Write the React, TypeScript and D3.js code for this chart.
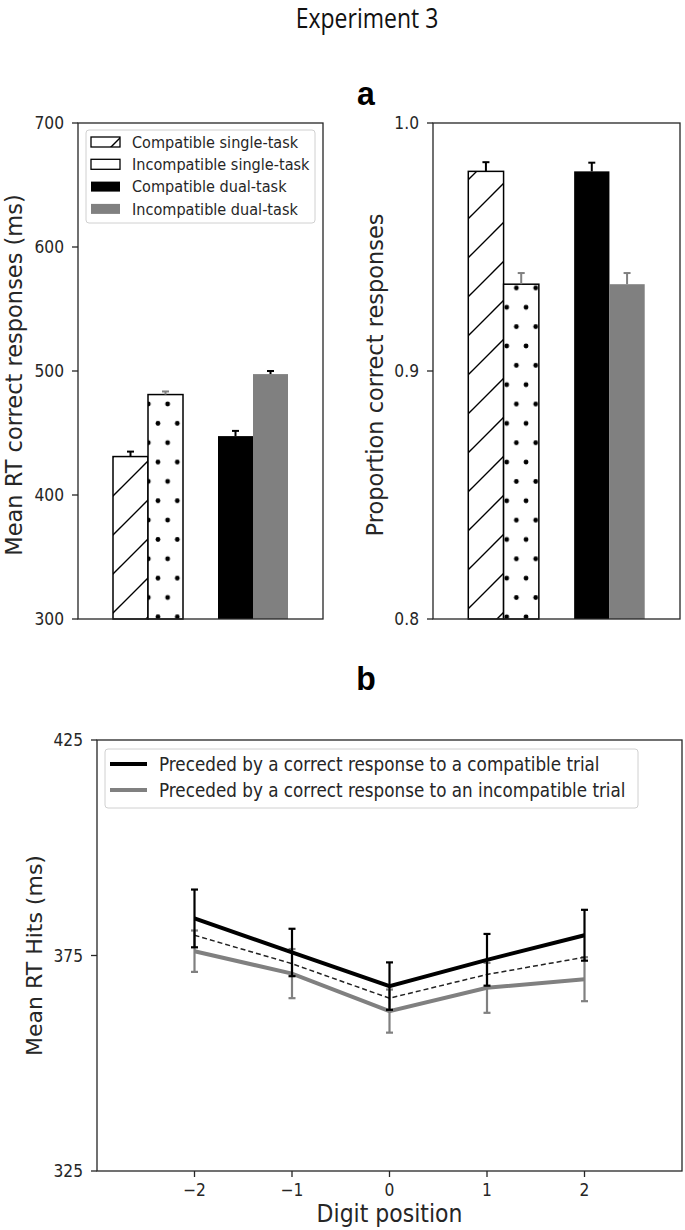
import React from 'react';
import * as d3 from 'd3';

// ---------- data ----------
const barLabels = ['Compatible single-task', 'Incompatible single-task', 'Compatible dual-task', 'Incompatible dual-task'];
const rtValues = [431, 481, 447.5, 497.5];
const rtErrors = [4, 2.5, 4.2, 2.5];
const pcValues = [0.9805, 0.935, 0.9805, 0.935];
const pcErrors = [0.0037, 0.0045, 0.0035, 0.0045];
const rtTicks = [300, 400, 500, 600, 700];
const pcTicks = [0.8, 0.9, 1.0];

const digitPositions = [-2, -1, 0, 1, 2];
const compatMeans = [383.6, 375.7, 367.9, 374.0, 379.7];
const compatErrs = [6.7, 5.5, 5.5, 6.0, 5.9];
const incompatMeans = [376.0, 370.8, 362.1, 367.5, 369.5];
const incompatErrs = [4.8, 5.7, 5.0, 5.8, 5.1];
const overallMeans = [379.7, 373.1, 365.1, 370.6, 374.6];
const hitsTicks = [325, 375, 425];
const lineLabels = ['Preceded by a correct response to a compatible trial', 'Preceded by a correct response to an incompatible trial'];

// ---------- styles ----------
const FONT = 'DejaVu Sans';
const AX = '#262626';
const GREY = '#808080';
const STRETCH = 1.12;
const barFills = ['url(#hatch)', null, '#000000', GREY];
const barStroke = ['#000', '#000', 'none', 'none'];
const rtErrColors = ['#000', GREY, '#000', '#000'];
const pcErrColors = ['#000', GREY, '#000', GREY];

type TProps = { x: number; y: number; size: number; anchor?: string; family?: string; weight?: string; fill?: string; dy?: string; children: React.ReactNode; stretch?: number };
function T({ x, y, size, anchor = 'start', family = FONT, weight = 'normal', fill = AX, dy, children, stretch = STRETCH }: TProps) {
  return (
    <text transform={`translate(${x},${y}) scale(1,${stretch})`} textAnchor={anchor} fontFamily={family}
      fontWeight={weight} fontSize={size} fill={fill} dy={dy}>{children}</text>
  );
}

type PanelProps = {
  x0: number; x1: number; y0: number; y1: number;
  domain: [number, number]; ticks: number[]; fmt: (v: number) => string;
  values: number[]; errors: number[]; errColors: string[];
  dotsId: string; label: string; labelX: number;
};

function BarPanel(p: PanelProps) {
  const x = d3.scaleLinear().domain([-2 / 3, 5 / 3]).range([p.x0, p.x1]);
  const y = d3.scaleLinear().domain(p.domain).range([p.y1, p.y0]);
  const w = x(1 / 3) - x(0);
  const bars = p.values.map((v, i) => {
    const g = Math.floor(i / 2);
    const side = i % 2;
    const left = x(g) + (side - 1) * w;
    return { v, i, left, e: p.errors[i] };
  });
  return (
    <g>
      {bars.map(b => (
        <g key={'b' + b.i}>
          <rect x={b.left} y={y(b.v)} width={w} height={y(p.domain[0]) - y(b.v)}
            fill={b.i === 1 ? 'white' : (barFills[b.i] as string)} stroke="none" />
          {b.i === 1 && (
            <rect x={b.left} y={y(b.v)} width={w} height={y(p.domain[0]) - y(b.v)} fill={`url(#${p.dotsId})`} />
          )}
          {barStroke[b.i] !== 'none' && (
            <rect x={b.left} y={y(b.v)} width={w} height={y(p.domain[0]) - y(b.v)} fill="none" stroke="#000" strokeWidth={1.5} />
          )}
        </g>
      ))}
      {bars.map(b => {
        const cx = b.left + w / 2;
        return (
          <g key={'t' + b.i} stroke={p.errColors[b.i]} strokeWidth={2}>
            <line x1={cx} x2={cx} y1={y(b.v)} y2={y(b.v + b.e)} />
            <line x1={cx - 3.5} x2={cx + 3.5} y1={y(b.v + b.e)} y2={y(b.v + b.e)} />
          </g>
        );
      })}
      <rect x={p.x0} y={p.y0} width={p.x1 - p.x0} height={p.y1 - p.y0} fill="none" stroke={AX} strokeWidth={1.3} />
      {p.ticks.map(t => (
        <g key={t}>
          <line x1={p.x0 - 6} x2={p.x0} y1={y(t)} y2={y(t)} stroke={AX} strokeWidth={1.3} />
          <T x={p.x0 - 14} y={y(t)} dy="0.36em" anchor="end" size={15.5}>{p.fmt(t)}</T>
        </g>
      ))}
      <text transform={`translate(${p.labelX},${(p.y0 + p.y1) / 2 + 4}) rotate(-90)`} textAnchor="middle"
        fontFamily={FONT} fontSize={22.5} fill={AX}>{p.label}</text>
    </g>
  );
}

function LinePanel() {
  const x0 = 97, x1 = 682, y0 = 740, y1 = 1171;
  const x = d3.scaleLinear().domain([-3, 3]).range([x0, x1]);
  const y = d3.scaleLinear().domain([325, 425]).range([y1, y0]);
  const line = d3.line<number>().x((_, i) => x(digitPositions[i])).y(v => y(v));
  const errs = (means: number[], errs: number[], color: string, key: string) => (
    <g key={key} stroke={color} strokeWidth={2.2}>
      {means.map((m, i) => {
        const cx = x(digitPositions[i]);
        return (
          <g key={i}>
            <line x1={cx} x2={cx} y1={y(m - errs[i])} y2={y(m + errs[i])} />
            <line x1={cx - 3.5} x2={cx + 3.5} y1={y(m - errs[i])} y2={y(m - errs[i])} />
            <line x1={cx - 3.5} x2={cx + 3.5} y1={y(m + errs[i])} y2={y(m + errs[i])} />
          </g>
        );
      })}
    </g>
  );
  return (
    <g>
      {errs(incompatMeans, incompatErrs, GREY, 'ge')}
      <path d={line(incompatMeans) || ''} fill="none" stroke={GREY} strokeWidth={4} />
      <path d={line(overallMeans) || ''} fill="none" stroke="#222" strokeWidth={1.5} strokeDasharray="5,3" />
      {errs(compatMeans, compatErrs, '#000', 'be')}
      <path d={line(compatMeans) || ''} fill="none" stroke="#000" strokeWidth={4} />
      <rect x={x0} y={y0} width={x1 - x0} height={y1 - y0} fill="none" stroke={AX} strokeWidth={1.3} />
      {hitsTicks.map(t => (
        <g key={t}>
          <line x1={x0 - 6} x2={x0} y1={y(t)} y2={y(t)} stroke={AX} strokeWidth={1.3} />
          <T x={x0 - 14} y={y(t)} dy="0.36em" anchor="end" size={15.5}>{t}</T>
        </g>
      ))}
      {digitPositions.map(t => (
        <g key={t}>
          <line x1={x(t)} x2={x(t)} y1={y1} y2={y1 + 6} stroke={AX} strokeWidth={1.3} />
          <T x={x(t)} y={y1 + 25} anchor="middle" size={15.5}>{t < 0 ? '\u2212' + Math.abs(t) : t}</T>
        </g>
      ))}
      <T x={(x0 + x1) / 2} y={1222} anchor="middle" size={22}>Digit position</T>
      <text transform={`translate(42,${(y0 + y1) / 2}) rotate(-90)`} textAnchor="middle" fontFamily={FONT} fontSize={22} fill={AX}>Mean RT Hits (ms)</text>
      {/* legend */}
      <rect x={105} y={749} width={533} height={59} rx={3} fill="white" stroke="#d0d0d0" strokeWidth={1} />
      {lineLabels.map((l, i) => (
        <g key={l}>
          <line x1={110} x2={147} y1={764 + i * 26} y2={764 + i * 26} stroke={i === 0 ? '#000' : GREY} strokeWidth={4} />
          <T x={159} y={764 + i * 26} dy="0.36em" size={16.8}>{l}</T>
        </g>
      ))}
    </g>
  );
}

export default function App() {
  return (
    <svg width={685} height={1230} style={{ position: 'absolute', left: 0, top: 0, background: 'white' }}>
      <defs>
        <pattern id="hatch" patternUnits="userSpaceOnUse" width={39} height={39} patternTransform="translate(24,0)">
          <path d="M0,39 L39,0 M-10,10 L10,-10 M29,49 L49,29" stroke="#000" strokeWidth={1.4} />
        </pattern>
        <pattern id="dotsL" patternUnits="userSpaceOnUse" width={19.33} height={38.7} patternTransform="translate(148.3,404)">
          <circle cx={0} cy={0} r={2.4} fill="#000" />
          <circle cx={19.33} cy={0} r={2.4} fill="#000" />
          <circle cx={0} cy={38.7} r={2.4} fill="#000" />
          <circle cx={19.33} cy={38.7} r={2.4} fill="#000" />
          <circle cx={9.67} cy={19.35} r={2.4} fill="#000" />
        </pattern>
        <pattern id="dotsR" patternUnits="userSpaceOnUse" width={19.33} height={38.7} patternTransform="translate(506.7,346)">
          <circle cx={0} cy={0} r={2.4} fill="#000" />
          <circle cx={19.33} cy={0} r={2.4} fill="#000" />
          <circle cx={0} cy={38.7} r={2.4} fill="#000" />
          <circle cx={19.33} cy={38.7} r={2.4} fill="#000" />
          <circle cx={9.67} cy={19.35} r={2.4} fill="#000" />
        </pattern>
      </defs>
      <T x={367} y={28} anchor="middle" family="Open Sans" size={23} fill="#111" stretch={1.2}>Experiment 3</T>
      <T x={366} y={105} anchor="middle" family="Liberation Sans" weight="bold" size={32} fill="#000" stretch={1.05}>a</T>
      <T x={366} y={690} anchor="middle" family="Liberation Sans" weight="bold" size={32} fill="#000" stretch={1.05}>b</T>

      <BarPanel x0={78} x1={323} y0={123} y1={619} domain={[300, 700]} ticks={rtTicks} fmt={v => String(v)}
        values={rtValues} errors={rtErrors} errColors={rtErrColors} dotsId="dotsL"
        label="Mean RT correct responses (ms)" labelX={22} />
      <BarPanel x0={433} x1={680} y0={123} y1={619} domain={[0.8, 1.0]} ticks={pcTicks} fmt={v => v.toFixed(1)}
        values={pcValues} errors={pcErrors} errColors={pcErrColors} dotsId="dotsR"
        label="Proportion correct responses" labelX={383} />

      {/* top legend */}
      <rect x={86} y={130} width={229} height={93} rx={3} fill="white" stroke="#d0d0d0" strokeWidth={1} />
      {barLabels.map((l, i) => {
        const cy = 142 + i * 22.3;
        const fill = i === 0 ? 'url(#hatch)' : i === 1 ? 'white' : (barFills[i] as string);
        return (
          <g key={l}>
            <rect x={91} y={cy - 5} width={29} height={10} fill={fill}
              stroke={i < 2 ? '#000' : 'none'} strokeWidth={1.3} />
            <T x={132} y={cy} dy="0.36em" size={14.5}>{l}</T>
          </g>
        );
      })}

      <LinePanel />
    </svg>
  );
}
